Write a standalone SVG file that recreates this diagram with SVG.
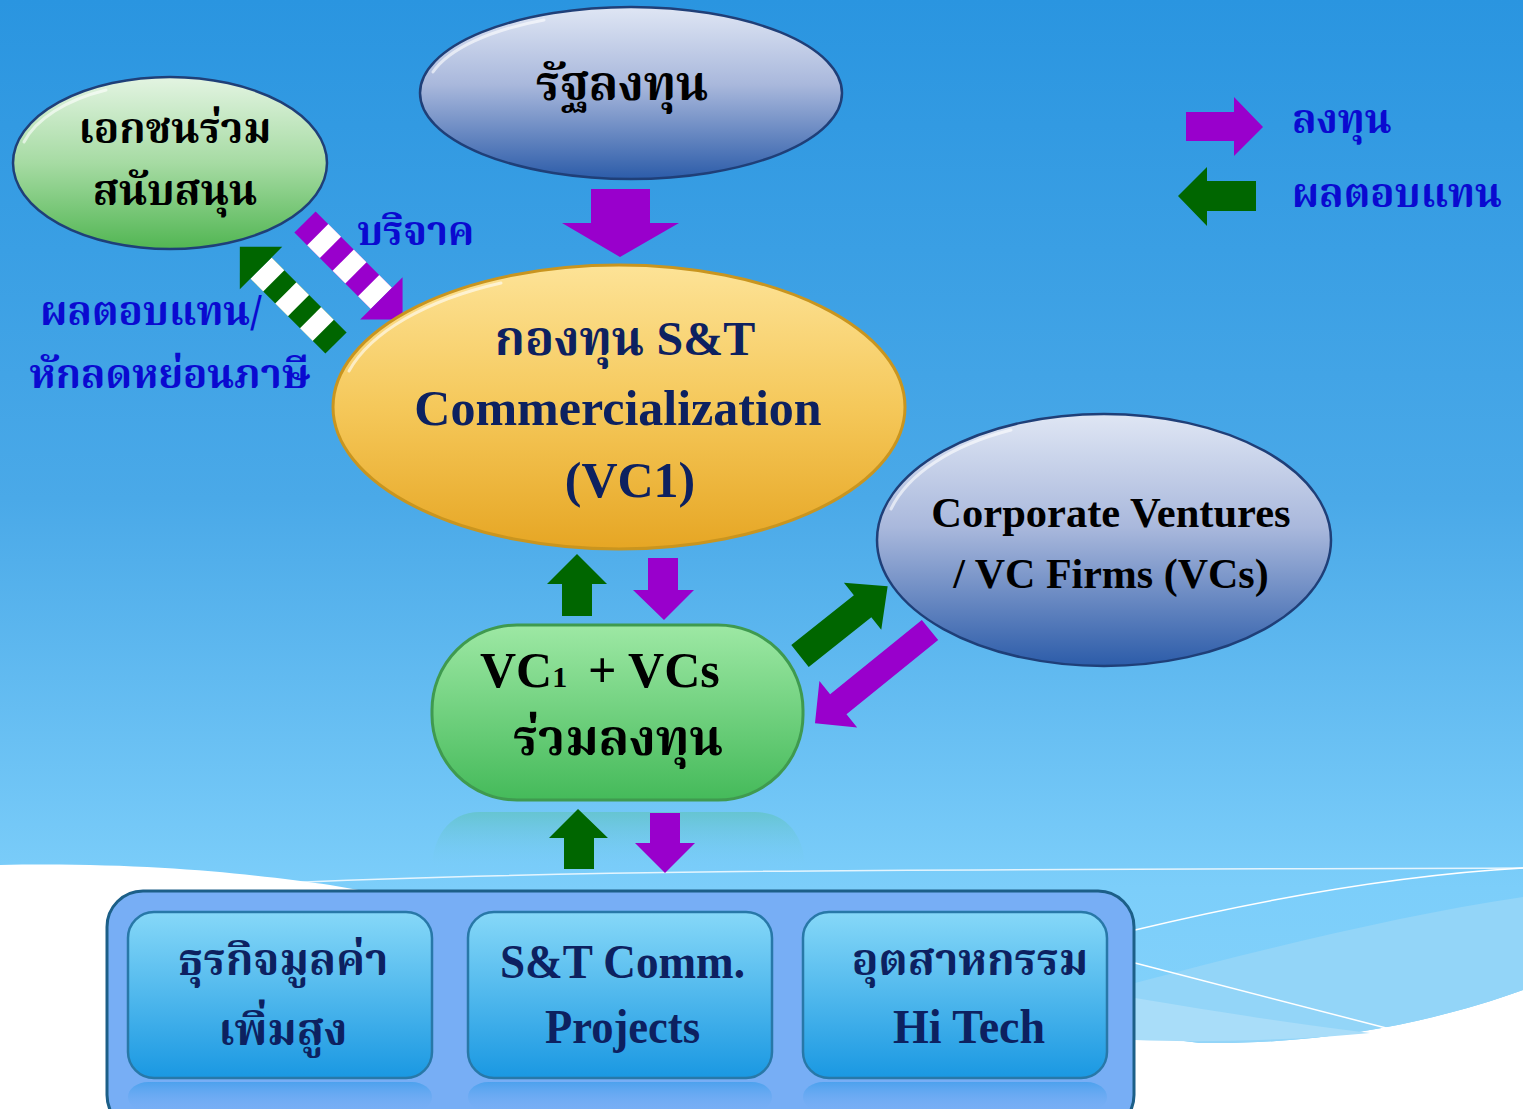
<svg xmlns="http://www.w3.org/2000/svg" width="1523" height="1109" viewBox="0 0 1523 1109">
<defs>
<linearGradient id="bg" x1="0" y1="0" x2="0" y2="1">
<stop offset="0" stop-color="#2a95e0"/>
<stop offset="0.45" stop-color="#4aa9e8"/>
<stop offset="0.8" stop-color="#7ccefa"/>
<stop offset="1" stop-color="#86d3fb"/>
</linearGradient>
<linearGradient id="gGreen" x1="0" y1="0" x2="0" y2="1">
<stop offset="0" stop-color="#e3f4e2"/>
<stop offset="0.5" stop-color="#a6dba3"/>
<stop offset="1" stop-color="#52b653"/>
</linearGradient>
<linearGradient id="gBlue" x1="0" y1="0" x2="0" y2="1">
<stop offset="0" stop-color="#dfe6f4"/>
<stop offset="0.45" stop-color="#a9b8dc"/>
<stop offset="1" stop-color="#2c5ca9"/>
</linearGradient>
<linearGradient id="gGold" x1="0" y1="0" x2="0" y2="1">
<stop offset="0" stop-color="#fde397"/>
<stop offset="0.5" stop-color="#f5c85a"/>
<stop offset="1" stop-color="#e6a624"/>
</linearGradient>
<linearGradient id="gVC" x1="0" y1="0" x2="0" y2="1">
<stop offset="0" stop-color="#9de8a4"/>
<stop offset="1" stop-color="#45ba5a"/>
</linearGradient>
<linearGradient id="gRefl" x1="0" y1="0" x2="0" y2="1">
<stop offset="0" stop-color="#5ec3b8" stop-opacity="0.6"/>
<stop offset="1" stop-color="#7ccefa" stop-opacity="0"/>
</linearGradient>
<linearGradient id="gBox" x1="0" y1="0" x2="0" y2="1">
<stop offset="0" stop-color="#86d8f8"/>
<stop offset="1" stop-color="#1a98e2"/>
</linearGradient>
<linearGradient id="gBoxRefl" x1="0" y1="0" x2="0" y2="1">
<stop offset="0" stop-color="#3a9cea" stop-opacity="0.7"/>
<stop offset="1" stop-color="#77aef5" stop-opacity="0"/>
</linearGradient>
<style>
.th{font-family:"Noto Serif Thai","Noto Sans Thai","TH Sarabun New","Loma","Garuda","Liberation Serif",serif;font-weight:bold}
.en{font-family:"Liberation Serif","Noto Serif Thai","Noto Sans Thai",serif;font-weight:bold}
.blk{fill:#000}
.navy{fill:#0d2160}
.lbl{fill:#0a0ad0}
.pur{fill:#9900cc}
.grn{fill:#006600}
.wht{fill:#ffffff}
.ell{stroke:#1f3f78;stroke-width:2.5}
.gloss{fill:none;stroke:#ffffff;stroke-width:3;stroke-linecap:round;opacity:0.6}
</style>
</defs>

<!-- background -->
<rect x="0" y="0" width="1523" height="1109" fill="url(#bg)"/>
<path d="M0,865 C150,862 260,875 330,885 C600,930 900,1010 1200,1043 C1330,1045 1440,1020 1523,990 L1523,1109 L0,1109 Z" fill="#ffffff"/>
<path d="M1135,983 C1260,950 1400,915 1523,897 L1523,990 C1440,1020 1330,1045 1200,1043 C1180,1040 1160,1038 1135,1036 Z" fill="#93d5f8"/>
<path d="M1135,998 C1220,1012 1300,1025 1370,1033 C1300,1040 1200,1043 1135,1040 Z" fill="#a9ddf9"/>
<path d="M260,884 C600,868 1000,870 1523,868" fill="none" stroke="#ffffff" stroke-width="1.5" opacity="0.8"/>
<path d="M1135,930 C1260,900 1400,875 1523,868" fill="none" stroke="#ffffff" stroke-width="1.5"/>
<path d="M1135,963 L1390,1029" fill="none" stroke="#ffffff" stroke-width="1.5"/>
<!-- reflection of VC box -->
<path d="M480,812 L755,812 C790,812 805,840 805,870 L432,870 C432,840 447,812 480,812 Z" fill="url(#gRefl)"/>

<!-- connectors -->
<g id="connectors">
<!-- state to fund -->
<polygon class="pur" points="591,189 650,189 650,223 679,223 620,257 562,223 591,223"/>
<!-- donation striped arrow -->
<g transform="translate(305,222) rotate(45)">
<rect class="pur" x="0" y="-15" width="108" height="30"/>
<rect class="wht" x="18" y="-15" width="18" height="30"/>
<rect class="wht" x="54" y="-15" width="18" height="30"/>
<rect class="wht" x="90" y="-15" width="18" height="30"/>
<polygon class="pur" points="108,-30 138,0 108,30"/>
</g>
<!-- return striped arrow -->
<g transform="translate(336,343) rotate(225)">
<rect class="grn" x="0" y="-15" width="106" height="30"/>
<rect class="wht" x="18" y="-15" width="18" height="30"/>
<rect class="wht" x="53" y="-15" width="18" height="30"/>
<rect class="wht" x="88" y="-15" width="18" height="30"/>
<polygon class="grn" points="106,-30 136,0 106,30"/>
</g>
<!-- VC box <-> fund -->
<polygon class="grn" points="562,616 592,616 592,584 607,584 577,554 547,584 562,584"/>
<polygon class="pur" points="648,558 678,558 678,590 694,590 664,620 633,590 648,590"/>
<!-- VC box <-> projects -->
<polygon class="grn" points="564,869 594,869 594,838 608,838 578,809 549,838 564,838"/>
<polygon class="pur" points="650,813 680,813 680,843 695,843 665,873 635,843 650,843"/>
<!-- VC box -> corporate -->
<g transform="translate(800,656) rotate(-38.5)">
<polygon class="grn" points="0,-14 80,-14 80,-30 112,0 80,30 80,14 0,14"/>
</g>
<!-- corporate -> VC box -->
<g transform="translate(930,630) rotate(141)">
<polygon class="pur" points="0,-13 118,-13 118,-30 148,0 118,30 118,13 0,13"/>
</g>
</g>

<!-- legend -->
<g id="legend">
<polygon class="pur" points="1186,112 1234,112 1234,97 1263,127 1234,156 1234,141 1186,141"/>
<polygon class="grn" points="1256,181 1207,181 1207,167 1178,196 1207,226 1207,211 1256,211"/>
<text class="th lbl" x="1292" y="133" font-size="40">ลงทุน</text>
<text class="th lbl" x="1292" y="207" font-size="40">ผลตอบแทน</text>
</g>

<!-- labels -->
<g id="labels">
<text class="th lbl" x="357" y="245" font-size="40">บริจาค</text>
<text class="th lbl" x="151" y="325" font-size="40" text-anchor="middle">ผลตอบแทน/</text>
<text class="th lbl" x="170" y="388" font-size="40" text-anchor="middle">หักลดหย่อนภาษี</text>
</g>

<!-- nodes -->
<g id="node-private">
<ellipse cx="170" cy="163" rx="157" ry="86" fill="url(#gGreen)" class="ell"/>
<path class="gloss" d="M24,142 A151,81 0 0 1 106,90"/>
<text class="th blk" x="175" y="143" font-size="42" text-anchor="middle">เอกชนร่วม</text>
<text class="th blk" x="175" y="205" font-size="42" text-anchor="middle">สนับสนุน</text>
</g>

<g id="node-state">
<ellipse cx="631" cy="93" rx="211" ry="86" fill="url(#gBlue)" class="ell"/>
<path class="gloss" d="M433,72 A205,81 0 0 1 544,20"/>
<text class="th blk" x="622" y="100" font-size="48" text-anchor="middle">รัฐลงทุน</text>
</g>

<g id="node-fund">
<ellipse cx="619" cy="407" rx="286" ry="142" fill="url(#gGold)" stroke="#c9951f" stroke-width="3"/>
<path class="gloss" d="M349,371 A280,137 0 0 1 501,283"/>
<text class="th navy" x="625" y="355" font-size="48" text-anchor="middle">กองทุน <tspan class="en">S&amp;T</tspan></text>
<text class="en navy" x="618" y="425" font-size="50" text-anchor="middle">Commercialization</text>
<text class="en navy" x="630" y="497" font-size="50" text-anchor="middle">(VC1)</text>
</g>

<g id="node-corporate">
<ellipse cx="1104" cy="540" rx="227" ry="126" fill="url(#gBlue)" class="ell"/>
<path class="gloss" d="M891,509 A221,121 0 0 1 1011,430"/>
<text class="en blk" x="1111" y="527" font-size="42.5" text-anchor="middle">Corporate Ventures</text>
<text class="en blk" x="1111" y="588" font-size="42" text-anchor="middle">/ VC Firms (VCs)</text>
</g>

<g id="node-vc">
<rect x="432" y="625" width="371" height="175" rx="85" ry="85" fill="url(#gVC)" stroke="#3f9a4f" stroke-width="3"/>
<text class="en blk" x="480" y="687" font-size="50">VC<tspan font-size="30">1</tspan><tspan x="588">+ VCs</tspan></text>
<text class="th blk" x="618" y="755" font-size="50" text-anchor="middle">ร่วมลงทุน</text>
</g>

<g id="node-group">
<rect x="107" y="891" width="1027" height="240" rx="36" ry="36" fill="#77aef5" stroke="#1c5f88" stroke-width="3"/>
<rect x="128" y="1082" width="304" height="30" rx="20" fill="url(#gBoxRefl)"/>
<rect x="468" y="1082" width="304" height="30" rx="20" fill="url(#gBoxRefl)"/>
<rect x="803" y="1082" width="304" height="30" rx="20" fill="url(#gBoxRefl)"/>
</g>

<g id="node-business">
<rect x="128" y="912" width="304" height="166" rx="26" ry="26" fill="url(#gBox)" stroke="#2878a8" stroke-width="2.5"/>
<text class="th navy" x="283" y="975" font-size="44" text-anchor="middle">ธุรกิจมูลค่า</text>
<text class="th navy" x="283" y="1045" font-size="44" text-anchor="middle">เพิ่มสูง</text>
</g>

<g id="node-projects">
<rect x="468" y="912" width="304" height="166" rx="26" ry="26" fill="url(#gBox)" stroke="#2878a8" stroke-width="2.5"/>
<text class="en navy" x="500" y="978" font-size="48" textLength="245" lengthAdjust="spacingAndGlyphs">S&amp;T Comm.</text>
<text class="en navy" x="545" y="1043" font-size="48" textLength="155" lengthAdjust="spacingAndGlyphs">Projects</text>
</g>

<g id="node-hitech">
<rect x="803" y="912" width="304" height="166" rx="26" ry="26" fill="url(#gBox)" stroke="#2878a8" stroke-width="2.5"/>
<text class="th navy" x="970" y="975" font-size="44" text-anchor="middle">อุตสาหกรรม</text>
<text class="en navy" x="893" y="1043" font-size="48" textLength="152" lengthAdjust="spacingAndGlyphs">Hi Tech</text>
</g>
</svg>
